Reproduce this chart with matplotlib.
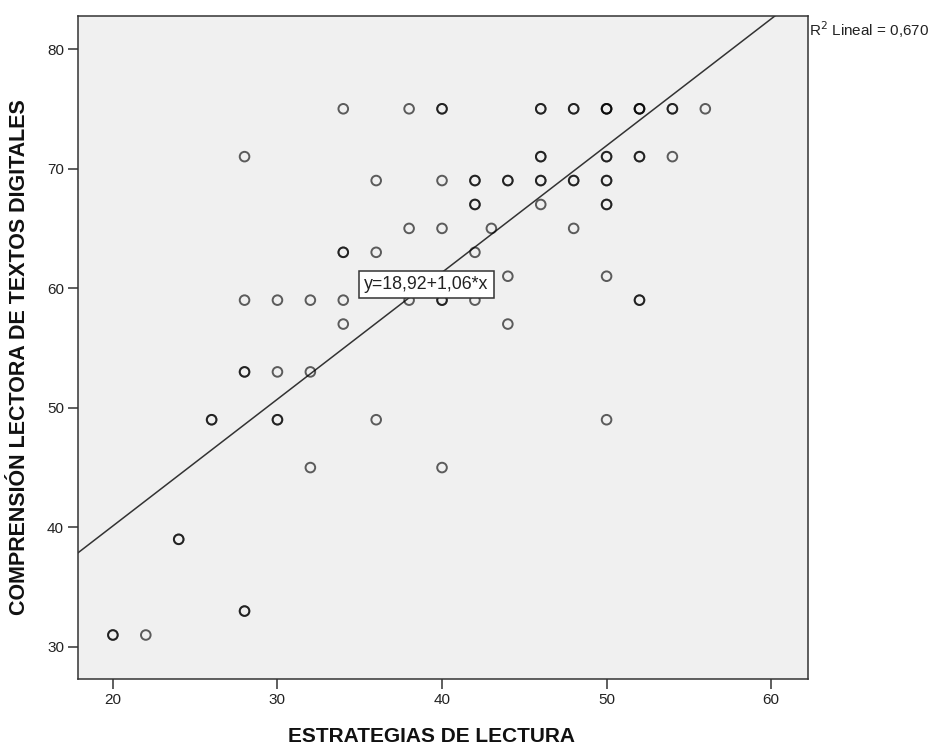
import matplotlib
matplotlib.use("Agg")
import matplotlib.pyplot as plt
import numpy as np

plt.rcParams['font.family'] = ['Liberation Sans', 'DejaVu Sans']

# Data (x = Estrategias de lectura, y = Comprensión lectora, n = overlapping cases)
x_vals = [20, 22, 24, 26, 28, 28, 28, 28, 30, 30, 30, 32, 32, 32, 34, 34, 34, 34,
          36, 36, 36, 38, 38, 38, 40, 40, 40, 40, 40, 42, 42, 42, 42, 43, 44, 44, 44,
          46, 46, 46, 46, 48, 48, 48, 50, 50, 50, 50, 50, 50, 52, 52, 52, 54, 54, 56]
y_vals = [31, 31, 39, 49, 71, 59, 53, 33, 59, 53, 49, 59, 53, 45, 75, 63, 59, 57,
          69, 63, 49, 75, 65, 59, 75, 69, 65, 59, 45, 69, 67, 63, 59, 65, 69, 61, 57,
          75, 71, 69, 67, 75, 69, 65, 75, 71, 69, 67, 61, 49, 75, 71, 59, 75, 71, 75]
counts = [2, 1, 2, 2, 1, 1, 2, 2, 1, 1, 2, 1, 1, 1, 1, 2, 1, 1,
          1, 1, 1, 1, 1, 1, 2, 1, 1, 2, 1, 2, 2, 1, 1, 1, 2, 1, 1,
          2, 2, 2, 1, 2, 2, 1, 3, 2, 2, 2, 1, 1, 3, 2, 2, 2, 1, 1]

intercept = 18.92
slope = 1.06
r2 = 0.670

x_ticks = [20, 30, 40, 50, 60]
y_ticks = [30, 40, 50, 60, 70, 80]
xlabel = "ESTRATEGIAS DE LECTURA"
ylabel = "COMPRENSIÓN LECTORA DE TEXTOS DIGITALES"

W, H = 938, 747
fig = plt.figure(figsize=(W / 100, H / 100), dpi=100)
fig.patch.set_facecolor('white')
ax = fig.add_axes([78 / W, (H - 679) / H, (808 - 78) / W, (679 - 16) / H])
ax.set_facecolor('#F0F0F0')

xmin, xmax = 17.88, 62.24
ymin, ymax = 27.32, 82.76
ax.set_xlim(xmin, xmax)
ax.set_ylim(ymin, ymax)

# Scatter: repeat points per count so overlaps look darker
xs = np.repeat(x_vals, counts)
ys = np.repeat(y_vals, counts)
ax.scatter(xs, ys, s=48, facecolors='none', edgecolors=(0, 0, 0, 0.62),
           linewidths=1.4, zorder=3)

# Fit line
lx = np.array([xmin, xmax])
ax.plot(lx, intercept + slope * lx, color='#333333', lw=1.1, zorder=2)

# Equation label
ax.text(39.05, 60.3, "y=18,92+1,06*x", fontsize=12.8, ha='center', va='center',
        zorder=5, color='#222222',
        bbox=dict(boxstyle='square,pad=0.3', fc='white', ec='#333333', lw=1.1))

# R2 label
fig.text(809 / W, 1 - 30 / H, "R$^2$ Lineal = 0,670", fontsize=11,
         ha='left', va='center', color='#222222')

for sp in ax.spines.values():
    sp.set_color('#333333')
    sp.set_linewidth(1.1)

ax.set_xticks(x_ticks)
ax.set_yticks(y_ticks)
ax.tick_params(axis='both', direction='out', length=7, width=1.1, color='#333333',
               labelsize=11, labelcolor='#222222', pad=3)
ax.tick_params(top=False, right=False)

fig.text(431 / W, 1 - 736 / H, xlabel, fontsize=15, fontweight='bold',
         ha='center', va='center', color='#111111')
fig.text(20 / W, 1 - 357 / H, ylabel, fontsize=15.5, fontweight='bold',
         ha='center', va='center', rotation=90, color='#111111')

fig.savefig("out.png", dpi=100)
